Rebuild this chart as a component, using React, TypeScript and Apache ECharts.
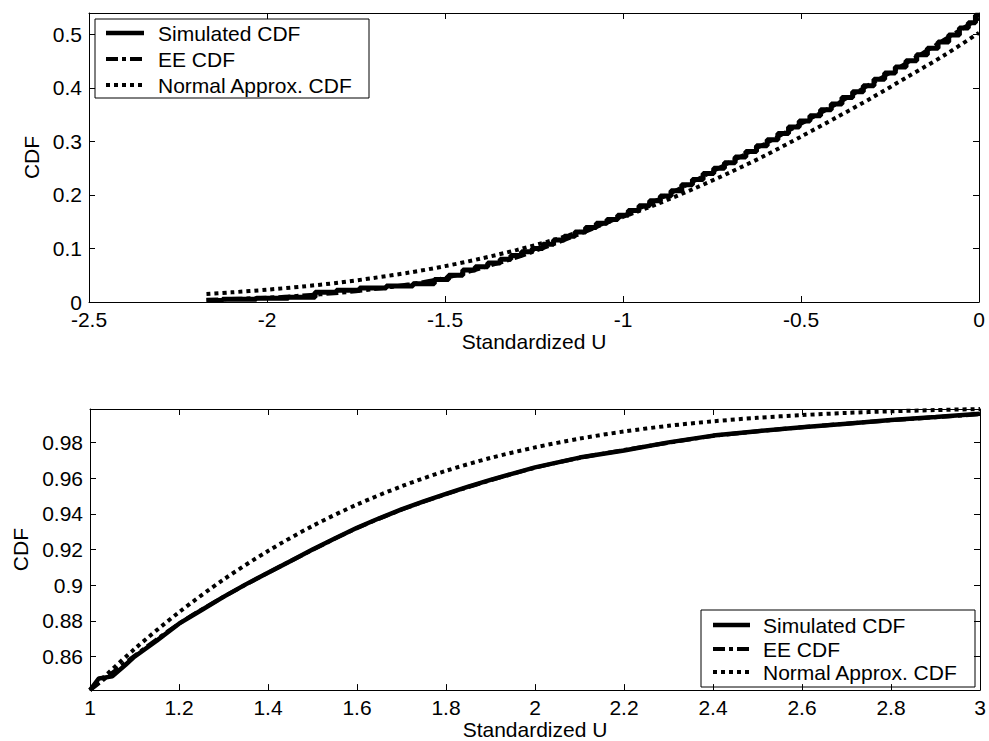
import React, { useEffect, useRef } from "react";
import * as echarts from "echarts";

// ---------- Top panel (left tail) ----------
const topSimX = [-2.17, -2.08, -1.98, -1.9, -1.83, -1.78, -1.7, -1.63, -1.55, -1.51, -1.47, -1.43, -1.4, -1.36, -1.33, -1.3, -1.27, -1.24, -1.21, -1.18, -1.15, -1.12, -1.09, -1.06, -1.03, -1.0, -0.97, -0.94, -0.91, -0.88, -0.85, -0.82, -0.79, -0.76, -0.73, -0.7, -0.67, -0.64, -0.61, -0.58, -0.55, -0.52, -0.49, -0.46, -0.43, -0.4, -0.37, -0.34, -0.31, -0.28, -0.25, -0.22, -0.19, -0.16, -0.13, -0.1, -0.07, -0.04, -0.02, 0];
const topSimY = [0.003, 0.005, 0.007, 0.009, 0.018, 0.022, 0.026, 0.03, 0.034, 0.042, 0.05, 0.06, 0.066, 0.073, 0.08, 0.087, 0.094, 0.1, 0.108, 0.116, 0.123, 0.131, 0.139, 0.147, 0.154, 0.162, 0.171, 0.18, 0.189, 0.198, 0.208, 0.219, 0.229, 0.24, 0.25, 0.26, 0.271, 0.281, 0.292, 0.303, 0.315, 0.327, 0.338, 0.348, 0.359, 0.37, 0.382, 0.393, 0.404, 0.416, 0.428, 0.439, 0.451, 0.462, 0.474, 0.486, 0.499, 0.512, 0.522, 0.536];

const topEEX = [-2.17, -2.0, -1.9, -1.8, -1.7, -1.6, -1.5, -1.4, -1.3, -1.2, -1.1, -1.0, -0.9, -0.8, -0.7, -0.6, -0.5, -0.4, -0.3, -0.2, -0.1, 0];
const topEEY = [0.004, 0.008, 0.012, 0.017, 0.024, 0.033, 0.045, 0.063, 0.083, 0.107, 0.133, 0.161, 0.192, 0.226, 0.261, 0.296, 0.333, 0.37, 0.409, 0.448, 0.489, 0.53];

const topNormX = [-2.17, -2.1, -2.0, -1.9, -1.8, -1.7, -1.6, -1.5, -1.4, -1.3, -1.2, -1.1, -1.0, -0.9, -0.8, -0.7, -0.6, -0.5, -0.4, -0.3, -0.2, -0.1, 0];
const topNormY = [0.015, 0.018, 0.023, 0.029, 0.036, 0.045, 0.055, 0.067, 0.081, 0.097, 0.115, 0.136, 0.159, 0.184, 0.212, 0.242, 0.274, 0.309, 0.345, 0.382, 0.421, 0.46, 0.503];

const topXTicks = [-2.5, -2, -1.5, -1, -0.5, 0];
const topYTicks = [0, 0.1, 0.2, 0.3, 0.4, 0.5];

// ---------- Bottom panel (right tail) ----------
const botSimX = [1.0, 1.02, 1.05, 1.08, 1.1, 1.15, 1.2, 1.25, 1.3, 1.35, 1.4, 1.45, 1.5, 1.55, 1.6, 1.65, 1.7, 1.75, 1.8, 1.85, 1.9, 1.95, 2.0, 2.1, 2.2, 2.3, 2.4, 2.5, 2.6, 2.7, 2.8, 2.9, 3.0];
const botSimY = [0.8413, 0.8478, 0.849, 0.8555, 0.86, 0.869, 0.8785, 0.886, 0.8935, 0.9005, 0.907, 0.9135, 0.92, 0.9262, 0.9322, 0.9375, 0.9425, 0.947, 0.9512, 0.9552, 0.959, 0.9625, 0.966, 0.9715, 0.9755, 0.98, 0.9838, 0.9863, 0.9885, 0.9905, 0.9925, 0.9942, 0.996];

const botEEX = [1.0, 1.1, 1.2, 1.3, 1.4, 1.5, 1.6, 1.7, 1.8, 1.9, 2.0, 2.1, 2.2, 2.3, 2.4, 2.5, 2.6, 2.7, 2.8, 2.9, 3.0];
const botEEY = [0.8413, 0.8605, 0.8785, 0.8935, 0.907, 0.9198, 0.932, 0.9423, 0.951, 0.9588, 0.9658, 0.9713, 0.9757, 0.9798, 0.9836, 0.9862, 0.9885, 0.9905, 0.9924, 0.9941, 0.9958];

const botNormX = [1.0, 1.1, 1.2, 1.3, 1.4, 1.5, 1.6, 1.7, 1.8, 1.9, 2.0, 2.1, 2.2, 2.3, 2.4, 2.5, 2.6, 2.7, 2.8, 2.9, 3.0];
const botNormY = [0.8413, 0.8643, 0.8849, 0.9032, 0.9192, 0.9332, 0.9452, 0.9554, 0.9641, 0.9713, 0.9772, 0.9821, 0.9861, 0.9893, 0.9918, 0.9938, 0.9953, 0.9965, 0.9974, 0.9981, 0.9987];

const botXTicks = [1, 1.2, 1.4, 1.6, 1.8, 2, 2.2, 2.4, 2.6, 2.8, 3];
const botYTicks = [0.86, 0.88, 0.9, 0.92, 0.94, 0.96, 0.98];

const legendNames = ["Simulated CDF", "EE CDF", "Normal Approx. CDF"];
const xAxisName = "Standardized U";
const yAxisName = "CDF";

const FONT = "Liberation Sans";
const FS = 21;
const zip = (xs: number[], ys: number[]) => xs.map((x, i) => [x, ys[i]]);

const EE_DASH = [12, 4, 4, 4];
const DOT_DASH = [4, 4];

function axisBase(min: number, max: number, ticks: number[], showLabels: boolean) {
  return {
    type: "value",
    min,
    max,
    axisLine: { show: true, onZero: false, lineStyle: { color: "#000", width: 1 } },
    axisTick: { show: true, inside: true, length: 6, customValues: ticks, lineStyle: { color: "#000", width: 1 } },
    axisLabel: {
      show: showLabels,
      customValues: ticks,
      color: "#000",
      fontFamily: FONT,
      fontSize: FS,
      margin: 7,
      formatter: (v: number) => String(v),
    },
    splitLine: { show: false },
  };
}

function legendGraphic(x: number, y: number, w: number, h: number, rows: number[], lineX0: number, lineX1: number, textX: number) {
  const styles = [
    { lineWidth: 4.5, lineDash: null as any },
    { lineWidth: 4, lineDash: EE_DASH },
    { lineWidth: 4, lineDash: DOT_DASH },
  ];
  const children: any[] = [
    { type: "rect", shape: { x, y, width: w, height: h }, style: { fill: "#fff", stroke: "#000", lineWidth: 1 } },
  ];
  legendNames.forEach((name, i) => {
    children.push({
      type: "line",
      shape: { x1: lineX0, y1: rows[i], x2: lineX1, y2: rows[i] },
      style: { stroke: "#000", lineWidth: styles[i].lineWidth, lineDash: styles[i].lineDash, lineCap: "butt" },
    });
    children.push({
      type: "text",
      x: textX,
      y: rows[i],
      style: { text: name, fill: "#000", font: `${FS}px "${FONT}"`, verticalAlign: "middle", align: "left" },
    });
  });
  return { type: "group", z: 100, children };
}

export default function App() {
  const ref = useRef<HTMLDivElement>(null);
  useEffect(() => {
    if (!ref.current) return;
    const chart = echarts.init(ref.current, null, { renderer: "svg" });
    const nameStyle = { color: "#000", fontFamily: FONT, fontSize: FS };
    const option: any = {
      animation: false,
      backgroundColor: "#fff",
      grid: [
        { left: 89, top: 13, width: 890, height: 289 },
        { left: 90, top: 409, width: 890, height: 286 },
      ],
      xAxis: [
        { ...axisBase(-2.5, 0, topXTicks, true), gridIndex: 0, position: "bottom", name: xAxisName, nameLocation: "middle", nameGap: 27, nameTextStyle: nameStyle },
        { ...axisBase(-2.5, 0, topXTicks, false), gridIndex: 0, position: "top" },
        { ...axisBase(1, 3, botXTicks, true), gridIndex: 1, position: "bottom", name: xAxisName, nameLocation: "middle", nameGap: 24, nameTextStyle: nameStyle },
        { ...axisBase(1, 3, botXTicks, false), gridIndex: 1, position: "top" },
      ],
      yAxis: [
        { ...axisBase(0, 0.54, topYTicks, true), gridIndex: 0, position: "left", name: yAxisName, nameLocation: "middle", nameGap: 46, nameTextStyle: nameStyle },
        { ...axisBase(0, 0.54, topYTicks, false), gridIndex: 0, position: "right" },
        { ...axisBase(0.8413, 0.9987, botYTicks, true), gridIndex: 1, position: "left", name: yAxisName, nameLocation: "middle", nameGap: 46, nameTextStyle: nameStyle },
        { ...axisBase(0.8413, 0.9987, botYTicks, false), gridIndex: 1, position: "right" },
      ],
      series: [
        { name: legendNames[0], type: "line", xAxisIndex: 0, yAxisIndex: 0, data: zip(topSimX, topSimY), step: "middle", symbol: "none", lineStyle: { color: "#000", width: 5 } },
        { name: legendNames[1], type: "line", xAxisIndex: 0, yAxisIndex: 0, data: zip(topEEX, topEEY), symbol: "none", smooth: 0.3, lineStyle: { color: "#000", width: 4, type: EE_DASH } },
        { name: legendNames[2], type: "line", xAxisIndex: 0, yAxisIndex: 0, data: zip(topNormX, topNormY), symbol: "none", smooth: 0.3, lineStyle: { color: "#000", width: 4, type: DOT_DASH, cap: "butt" } },
        { name: legendNames[0], type: "line", xAxisIndex: 2, yAxisIndex: 2, data: zip(botSimX, botSimY), symbol: "none", lineStyle: { color: "#000", width: 4.5 } },
        { name: legendNames[1], type: "line", xAxisIndex: 2, yAxisIndex: 2, data: zip(botEEX, botEEY), symbol: "none", smooth: 0.3, lineStyle: { color: "#000", width: 4, type: EE_DASH } },
        { name: legendNames[2], type: "line", xAxisIndex: 2, yAxisIndex: 2, data: zip(botNormX, botNormY), symbol: "none", smooth: 0.3, clip: true, lineStyle: { color: "#000", width: 4, type: DOT_DASH, cap: "butt" } },
      ],
      graphic: [
        legendGraphic(95, 19, 274, 79, [33, 59, 85], 106, 144, 158),
        legendGraphic(701, 610, 274, 77, [625, 649, 672], 713, 750, 763),
      ],
    };
    chart.setOption(option);
    return () => chart.dispose();
  }, []);
  return <div ref={ref} style={{ position: "absolute", left: 0, top: 0, width: 989, height: 741, background: "#fff" }} />;
}
